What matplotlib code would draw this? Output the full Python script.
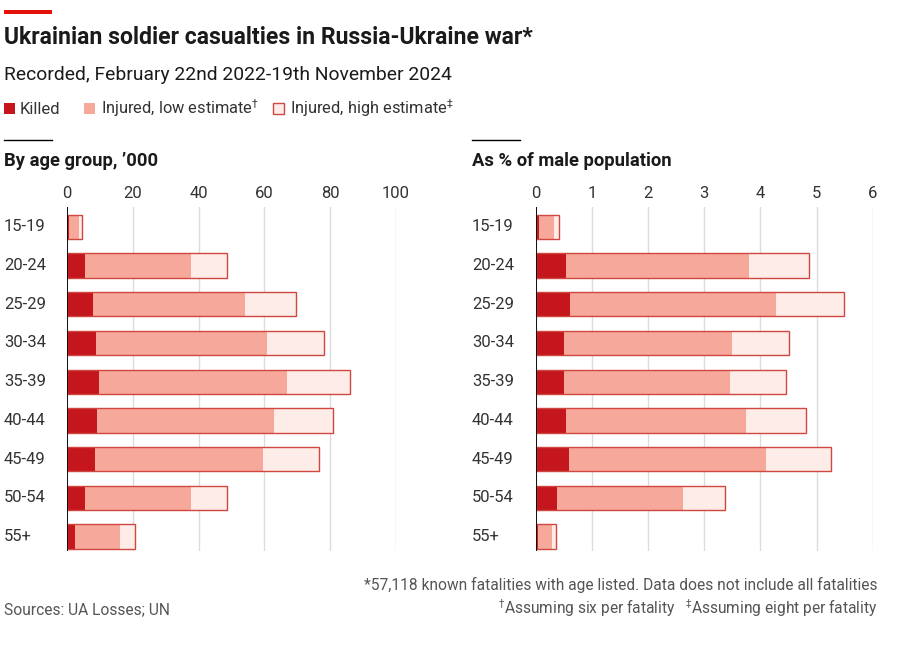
import matplotlib
matplotlib.use("Agg")
import matplotlib.pyplot as plt
from matplotlib import font_manager, transforms
from matplotlib.lines import Line2D
from matplotlib.patches import Rectangle

# data
age_groups = ["15-19", "20-24", "25-29", "30-34", "35-39", "40-44", "45-49", "50-54", "55+"]
killed_k = [0.5, 5.4, 7.75, 8.7, 9.57, 9.0, 8.5, 5.4, 2.3]
injured_low_k = [3.0, 32.4, 46.5, 52.2, 57.4, 54.0, 51.0, 32.4, 13.8]
injured_high_k = [4.0, 43.2, 62.0, 69.6, 76.6, 72.0, 68.0, 43.2, 18.4]
killed_pct = [0.045, 0.54, 0.61, 0.50, 0.495, 0.534, 0.585, 0.374, 0.04]
injured_low_pct = [0.27, 3.25, 3.66, 3.0, 2.97, 3.2, 3.51, 2.24, 0.24]
injured_high_pct = [0.36, 4.33, 4.88, 4.0, 3.96, 4.27, 4.68, 2.99, 0.32]
ticks_k = [0, 20, 40, 60, 80, 100]
ticks_pct = [0, 1, 2, 3, 4, 5, 6]

DARK = "#c4161c"
SALMON = "#f6a99a"
LIGHT = "#fdece8"
EDGE = "#d0473f"
GRID = "#dcdcdc"
TXT = "#1a1a1a"
GRAY = "#555555"

names = {f.name for f in font_manager.fontManager.ttflist}
MAIN = "Roboto" if "Roboto" in names else "DejaVu Sans"
NARROW = "Liberation Sans Narrow" if "Liberation Sans Narrow" in names else MAIN
plt.rcParams["font.family"] = [MAIN, "DejaVu Sans"]

W, H = 909, 651
fig = plt.figure(figsize=(W / 100, H / 100), dpi=100)


def fx(px):
    return px / W


def fy(py):
    return 1 - py / H


def panel(rect, killed, low, high, ticks, xmax, label_x):
    ax = fig.add_axes(rect)
    y = list(range(len(age_groups)))
    low_end = [k + l for k, l in zip(killed, low)]
    total = [k + h for k, h in zip(killed, high)]
    ax.barh(y, total, height=0.63, color=LIGHT, lw=0, zorder=2)
    ax.barh(y, low_end, height=0.63, color=SALMON, lw=0, zorder=3)
    ax.barh(y, killed, height=0.63, color=DARK, lw=0, zorder=4)
    ax.barh(y, total, height=0.63, fill=False, edgecolor=EDGE, lw=1, zorder=5)
    ax.axvline(0, color="black", lw=1.3, zorder=6)
    ax.set_xlim(0, xmax)
    ax.set_ylim(8.37, -0.51)
    ax.set_xticks(ticks)
    ax.xaxis.tick_top()
    ax.tick_params(axis="x", length=0, pad=4, labelsize=12, labelcolor="#333333")
    ax.set_yticks([])
    ax.xaxis.grid(True, color=GRID, lw=1)
    ax.set_axisbelow(True)
    for s in ax.spines.values():
        s.set_visible(False)
    tr = transforms.blended_transform_factory(fig.transFigure, ax.transData)
    for i, g in enumerate(age_groups):
        ax.text(fx(label_x), i, g, transform=tr, ha="left", va="center",
                fontsize=12, color="#333333")
    return ax


panel([fx(67.3), fy(551), fx(395.7) - fx(67.3), (551 - 207) / H],
      killed_k, injured_low_k, injured_high_k, ticks_k, 100, 4)
panel([fx(536), fy(551), fx(872.7) - fx(536), (551 - 207) / H],
      killed_pct, injured_low_pct, injured_high_pct, ticks_pct, 6, 472)

# header
fig.add_artist(Rectangle((fx(4), fy(14)), fx(48), 4 / H, color="#e3120b", lw=0))
fig.text(fx(4), fy(44.5), "Ukrainian soldier casualties in Russia-Ukraine war*",
         fontsize=16.6, fontweight="bold", color=TXT, va="baseline")
fig.text(fx(4), fy(80), "Recorded, February 22nd 2022-19th November 2024",
         fontsize=13.9, color=TXT, va="baseline")

# legend
leg_y = 108
fig.add_artist(Rectangle((fx(4), fy(leg_y + 6)), 11 / W, 11 / H, color=DARK, lw=0))
fig.text(fx(20), fy(leg_y + 6), "Killed", fontsize=12, color="#333333",
         va="baseline", family=[NARROW, "DejaVu Sans"])
fig.add_artist(Rectangle((fx(84), fy(leg_y + 6)), 11 / W, 11 / H, color=SALMON, lw=0))
fig.text(fx(101), fy(leg_y + 6), "Injured, low estimate$^{\u2020}$", fontsize=11.8,
         color="#333333", va="baseline", family=[NARROW, "DejaVu Sans"])
fig.add_artist(Rectangle((fx(273), fy(leg_y + 6)), 11 / W, 11 / H, facecolor=LIGHT,
                         edgecolor=EDGE, lw=1))
fig.text(fx(290), fy(leg_y + 6), "Injured, high estimate$^{\u2021}$", fontsize=11.8,
         color="#333333", va="baseline", family=[NARROW, "DejaVu Sans"])

# panel headings
for x0, title in [(4, "By age group, \u2019000"), (472, "As % of male population")]:
    fig.add_artist(Line2D([fx(x0), fx(x0 + 48)], [fy(140), fy(140)], color="black", lw=1))
    fig.text(fx(x0), fy(165.5), title, fontsize=13.2, fontweight="bold",
             color=TXT, va="baseline")

# footer
fig.text(fx(878), fy(590), "*57,118 known fatalities with age listed. Data does not include all fatalities",
         ha="right", va="baseline", fontsize=11.2, color=GRAY, family=[NARROW, "DejaVu Sans"])
fig.text(fx(878), fy(614), "$^{\u2020}$Assuming six per fatality   $^{\u2021}$Assuming eight per fatality",
         ha="right", va="baseline", fontsize=11.2, color=GRAY, family=[NARROW, "DejaVu Sans"])
fig.text(fx(4), fy(614), "Sources: UA Losses; UN", ha="left", va="baseline",
         fontsize=11.2, color=GRAY, family=[NARROW, "DejaVu Sans"])

fig.savefig("out.png", dpi=100, facecolor="white")
